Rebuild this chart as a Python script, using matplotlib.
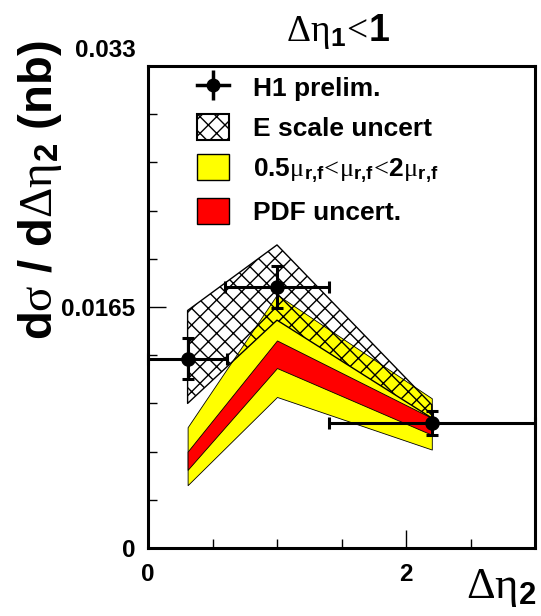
import matplotlib
matplotlib.use("Agg")
import matplotlib.pyplot as plt
from matplotlib.lines import Line2D
from matplotlib.patches import Patch
from matplotlib.ticker import FixedLocator
import matplotlib.transforms as mtransforms

plt.rcParams['font.family'] = ['Liberation Sans', 'DejaVu Sans']
plt.rcParams['mathtext.fontset'] = 'custom'
plt.rcParams['mathtext.rm'] = 'Liberation Serif'
plt.rcParams['mathtext.it'] = 'Liberation Serif'
plt.rcParams['mathtext.bf'] = 'Liberation Sans:bold'
plt.rcParams['mathtext.default'] = 'rm'
plt.rcParams['hatch.linewidth'] = 1.0

# ---- data ----
data_x = [0.307, 1.0, 2.2]
data_xlo = [0.0, 0.6, 1.4]
data_xhi = [0.613, 1.4, 3.0]
data_y = [0.01296, 0.01785, 0.00856]
data_yerr = [0.00141, 0.00143, 0.00085]

band_x = [0.307, 1.0, 2.2]
escale_lo = [0.0099, 0.0156, 0.0089]
escale_hi = [0.01626, 0.02075, 0.0098]
scale_lo = [0.0043, 0.01034, 0.00674]
scale_hi = [0.00827, 0.01735, 0.01025]
pdf_lo = [0.00535, 0.01232, 0.00775]
pdf_hi = [0.0066, 0.01421, 0.0089]

xlim = (0, 3)
ylim = (0, 0.033)
ytick_major = [0, 0.0165, 0.033]
ytick_labels = ['0', '0.0165', '0.033']
xtick_major = [0, 2]
xtick_labels = ['0', '2']

W, H = 541, 616
fig = plt.figure(figsize=(W / 100, H / 100), dpi=100)
ax = fig.add_axes([148 / W, 1 - 548 / H, (535 - 148) / W, (548 - 66) / H])

ax.fill_between(band_x, scale_lo, scale_hi, facecolor='#ffff00', edgecolor='black', linewidth=0.6, zorder=1)
ax.fill_between(band_x, pdf_lo, pdf_hi, facecolor='#ff0000', edgecolor='black', linewidth=0.6, zorder=2)
ax.fill_between(band_x, escale_lo, escale_hi, facecolor='none', edgecolor='black', hatch='xx', linewidth=1.0, zorder=3)

xerr_lo = [x - lo for x, lo in zip(data_x, data_xlo)]
xerr_hi = [hi - x for x, hi in zip(data_x, data_xhi)]
ax.errorbar(data_x, data_y, yerr=data_yerr, xerr=[xerr_lo, xerr_hi], fmt='o', color='black',
            markersize=9.5, elinewidth=2.2, capsize=4.5, capthick=2.2, zorder=5, clip_on=False)

ax.set_xlim(*xlim)
ax.set_ylim(*ylim)
for s in ax.spines.values():
    s.set_linewidth(2.2)

ax.set_yticks(ytick_major)
ax.set_yticklabels(ytick_labels)
ax.yaxis.set_minor_locator(FixedLocator([0.0033 * i for i in range(1, 10) if i != 5]))
ax.set_xticks(xtick_major)
ax.set_xticklabels(xtick_labels)
ax.xaxis.set_minor_locator(FixedLocator([0.5, 1.0, 1.5, 2.5]))
ax.tick_params(which='both', direction='in', top=False, right=False, width=1.0)
ax.tick_params(which='major', length=13)
ax.tick_params(which='minor', length=6.5)
ax.tick_params(axis='y', which='major', labelsize=17.5, pad=9)
ax.tick_params(axis='x', which='major', labelsize=17.5, pad=11)
for lab in ax.get_yticklabels() + ax.get_xticklabels():
    lab.set_fontweight('bold')
# raise top y label a bit
toplab = ax.get_yticklabels()[-1]
toplab.set_transform(toplab.get_transform() + mtransforms.ScaledTranslation(0, 18 / 100, fig.dpi_scale_trans))

# labels
fig.text(40 / W, 1 - 190 / H, r'd$\sigma$ / d$\Delta\eta_{\mathbf{2}}$ (nb)', rotation=90,
         ha='center', va='center', fontsize=34, fontweight='bold')
fig.text(536 / W, 1 - 598 / H, r'$\Delta\eta_{\mathbf{2}}$', ha='right', va='baseline', fontsize=32)
fig.text(338 / W, 1 - 41 / H, r'$\Delta\eta_{\mathbf{1}}\!<\!$1', ha='center', va='baseline',
         fontsize=27, fontweight='bold')

# legend
h1 = (Line2D([], [], color='black', lw=2.5),
      Line2D([], [], color='black', marker='|', markersize=22, mew=2.5, ls='none'),
      Line2D([], [], color='black', marker='o', markersize=9, ls='none'))
h2 = Patch(facecolor='white', edgecolor='black', hatch='xx', linewidth=1.5)
h3 = Patch(facecolor='#ffff00', edgecolor='black', linewidth=1.0)
h4 = Patch(facecolor='#ff0000', edgecolor='black', linewidth=1.0)
labels = ['H1 prelim.', 'E scale uncert',
          r'0.5$\mu_{\mathbf{r{,}f}}\!<\!\mu_{\mathbf{r{,}f}}\!<\!$2$\mu_{\mathbf{r{,}f}}$',
          'PDF uncert.']
leg = ax.legend([h1, h2, h3, h4], labels, loc='upper left',
                bbox_to_anchor=(197 / W, 1 - 74 / H), bbox_transform=fig.transFigure,
                frameon=False, borderpad=0, borderaxespad=0, fontsize=19,
                handlelength=1.22, handleheight=1.14, handletextpad=0.9, labelspacing=0.5)
for t in leg.get_texts():
    t.set_fontweight('bold')

fig.savefig('out.png', dpi=100)
